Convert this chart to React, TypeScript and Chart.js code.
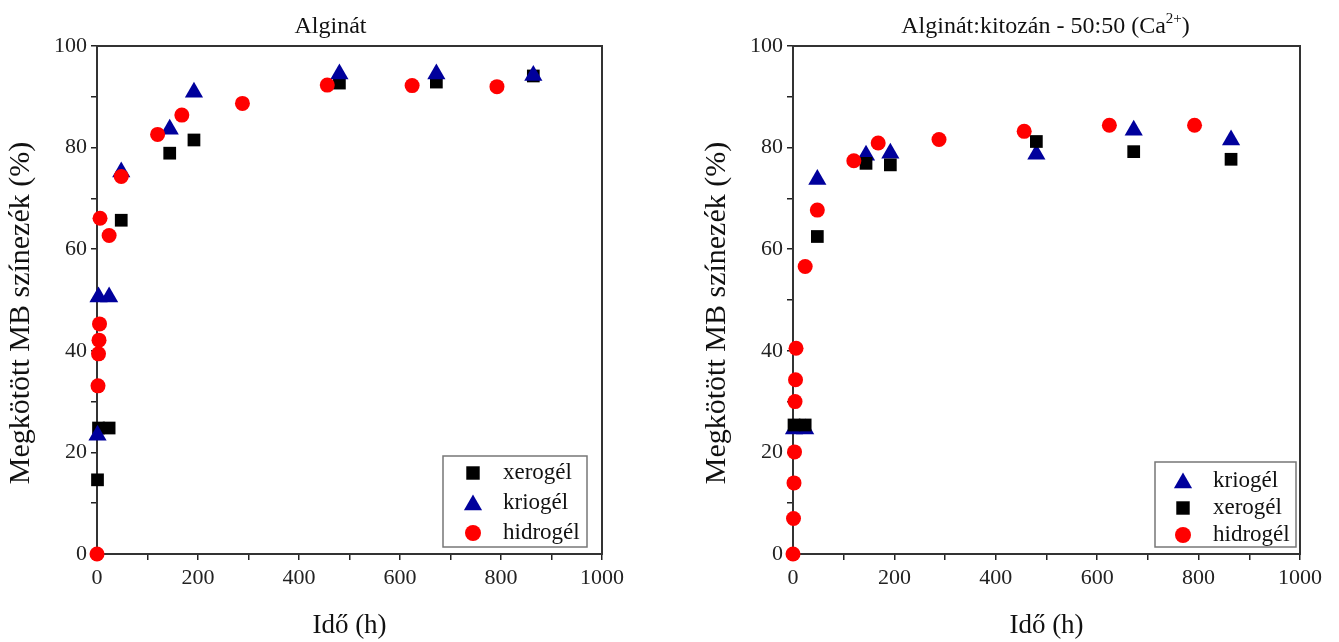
import React, { useEffect, useRef } from 'react';
import { Chart, registerables } from 'chart.js';

Chart.register(...registerables);

const FONT = "'Liberation Serif', 'Times New Roman', serif";

// ---------- data (time in hours, bound MB dye in %) ----------
// Left panel: Alginát
const hoursXeroA = [1, 3, 24, 48, 144, 192, 480, 672, 864];
const xeroA = [14.6, 24.8, 24.8, 65.7, 78.9, 81.5, 92.7, 92.9, 94.1];
const hoursKrioA = [1, 3, 24, 48, 144, 192, 480, 672, 864];
const krioA = [23.4, 50.6, 50.6, 75.2, 83.6, 90.9, 94.5, 94.5, 94.2];
const hoursHidroA = [0, 2, 3, 4, 5, 6, 24, 48, 120, 168, 288, 456, 624, 792];
const hidroA = [0, 33.1, 39.4, 42.1, 45.3, 66.1, 62.7, 74.3, 82.6, 86.4, 88.7, 92.3, 92.2, 92.0];

// Right panel: Alginát:kitozán - 50:50 (Ca2+)
const hoursKrioB = [2, 24, 48, 144, 192, 480, 672, 864];
const krioB = [24.6, 24.6, 73.7, 78.5, 78.9, 78.7, 83.4, 81.5];
const hoursXeroB = [2, 24, 48, 144, 192, 480, 672, 864];
const xeroB = [25.4, 25.4, 62.5, 76.9, 76.6, 81.2, 79.2, 77.7];
const hoursHidroB = [0, 1, 2, 3, 4, 5, 6, 24, 48, 120, 168, 288, 456, 624, 792];
const hidroB = [0, 7.0, 14.0, 20.1, 30.0, 34.3, 40.5, 56.6, 67.7, 77.4, 80.9, 81.6, 83.2, 84.4, 84.4];

// tick labels
const xMajorTicks = [0, 200, 400, 600, 800, 1000];
const yMajorTicks = [0, 20, 40, 60, 80, 100];

const xTitle = 'Idő (h)';
const yTitle = 'Megkötött MB színezék (%)';

// ---------- styles ----------
type Shape = 'rect' | 'triangle' | 'circle';
interface SeriesStyle { label: string; color: string; shape: Shape; radius: number; }
const XERO: SeriesStyle = { label: 'xerogél', color: '#000000', shape: 'rect', radius: 9 };
const KRIO: SeriesStyle = { label: 'kriogél', color: '#00009C', shape: 'triangle', radius: 10.5 };
const HIDRO: SeriesStyle = { label: 'hidrogél', color: '#FF0000', shape: 'circle', radius: 7.5 };

interface SeriesDef { style: SeriesStyle; xs: number[]; ys: number[]; order: number; }

function drawMarker(ctx: CanvasRenderingContext2D, shape: Shape, x: number, y: number, r: number, color: string) {
  ctx.fillStyle = color;
  ctx.beginPath();
  if (shape === 'circle') {
    ctx.arc(x, y, r, 0, Math.PI * 2);
  } else if (shape === 'rect') {
    const s = Math.SQRT1_2 * r;
    ctx.rect(x - s, y - s, 2 * s, 2 * s);
  } else {
    ctx.moveTo(x, y - r);
    ctx.lineTo(x + 0.866 * r, y + 0.5 * r);
    ctx.lineTo(x - 0.866 * r, y + 0.5 * r);
    ctx.closePath();
  }
  ctx.fill();
}

interface TitlePart { t: string; sup?: boolean; }
interface LegendGeom { gapR: number; gapB: number; w: number; h: number; first: number; gap: number; mdx: number; tdx: number; }

interface PanelProps {
  left: number;
  width: number;
  yAxisWidth: number;
  padRight: number;
  titleParts: TitlePart[];
  titleDx: number;
  series: SeriesDef[];
  legendOrder: SeriesStyle[];
  legend: LegendGeom;
}

function Panel(props: PanelProps) {
  const ref = useRef<HTMLCanvasElement>(null);
  useEffect(() => {
    const canvas = ref.current;
    if (!canvas) return;
    const { yAxisWidth, padRight, titleParts, titleDx, series, legendOrder, legend } = props;

    const decor = {
      id: 'decor',
      beforeDatasetsDraw(chart: any) {
        const { ctx, chartArea: a } = chart;
        ctx.save();
        ctx.strokeStyle = '#333';
        ctx.lineWidth = 2;
        ctx.strokeRect(a.left, a.top, a.right - a.left, a.bottom - a.top);
        ctx.restore();
      },
      afterDraw(chart: any) {
        const { ctx, chartArea: a } = chart;
        ctx.save();
        // plot title with optional superscript
        const mainFont = `24px ${FONT}`;
        const supFont = `15px ${FONT}`;
        let total = 0;
        const widths = titleParts.map((p) => {
          ctx.font = p.sup ? supFont : mainFont;
          const w = ctx.measureText(p.t).width;
          total += w;
          return w;
        });
        let tx = (a.left + a.right) / 2 + titleDx - total / 2;
        ctx.fillStyle = '#111';
        ctx.textAlign = 'left';
        ctx.textBaseline = 'alphabetic';
        titleParts.forEach((p, i) => {
          ctx.font = p.sup ? supFont : mainFont;
          ctx.fillText(p.t, tx, p.sup ? 23 : 33);
          tx += widths[i];
        });

        // rotated y title
        ctx.save();
        ctx.translate(29, 313);
        ctx.rotate(-Math.PI / 2);
        ctx.font = `30px ${FONT}`;
        ctx.textAlign = 'center';
        ctx.textBaseline = 'alphabetic';
        ctx.fillStyle = '#111';
        ctx.fillText(yTitle, 0, 0);
        ctx.restore();

        // legend box
        const lx = a.right - legend.gapR - legend.w;
        const ly = a.bottom - legend.gapB - legend.h;
        ctx.fillStyle = '#fff';
        ctx.fillRect(lx, ly, legend.w, legend.h);
        ctx.strokeStyle = '#777';
        ctx.lineWidth = 1.5;
        ctx.strokeRect(lx, ly, legend.w, legend.h);
        legendOrder.forEach((s, i) => {
          const ry = ly + legend.first + i * legend.gap;
          const r = s.shape === 'triangle' ? 10.5 : s.shape === 'rect' ? 9.5 : 8;
          drawMarker(ctx, s.shape, lx + legend.mdx, ry + (s.shape === 'triangle' ? 2 : 0), r, s.color);
          ctx.font = `23px ${FONT}`;
          ctx.fillStyle = '#111';
          ctx.textAlign = 'left';
          ctx.textBaseline = 'middle';
          ctx.fillText(s.label, lx + legend.tdx, ry);
        });
        ctx.restore();
      },
    };

    const tickFont = { family: FONT, size: 22 };
    const chart = new Chart(canvas, {
      type: 'scatter',
      data: {
        datasets: series.map((s) => ({
          label: s.style.label,
          data: s.xs.map((x, i) => ({ x, y: s.ys[i] })),
          pointStyle: s.style.shape,
          pointRadius: s.style.radius,
          pointHoverRadius: s.style.radius,
          backgroundColor: s.style.color,
          borderColor: s.style.color,
          borderWidth: 0,
          clip: false as any,
          order: s.order,
        })),
      },
      options: {
        responsive: false,
        animation: false,
        devicePixelRatio: 1,
        events: [],
        layout: { padding: { top: 46, right: padRight, left: 0, bottom: 0 } },
        plugins: {
          legend: { display: false },
          tooltip: { enabled: false },
          title: { display: false },
        },
        scales: {
          x: {
            type: 'linear',
            min: 0,
            max: 1000,
            afterFit: (s: any) => { s.height = 88; },
            ticks: {
              stepSize: 100,
              autoSkip: false,
              maxRotation: 0,
              callback: (v: any) => (xMajorTicks.includes(Number(v)) ? String(v) : ''),
              font: tickFont,
              color: '#222',
              padding: 5,
            },
            grid: { drawOnChartArea: false, drawTicks: true, tickLength: 6, color: '#222', lineWidth: 1.5 },
            border: { display: false },
            title: {
              display: true,
              text: xTitle,
              font: { family: FONT, size: 27 },
              color: '#111',
              padding: { top: 0, bottom: 0 },
            },
          },
          y: {
            type: 'linear',
            min: 0,
            max: 100,
            afterFit: (s: any) => { s.width = yAxisWidth; },
            ticks: {
              stepSize: 10,
              autoSkip: false,
              callback: (v: any) => (yMajorTicks.includes(Number(v)) ? String(v) : ''),
              font: tickFont,
              color: '#222',
              padding: 4,
            },
            grid: { drawOnChartArea: false, drawTicks: true, tickLength: 6, color: '#222', lineWidth: 1.5 },
            border: { display: false },
            title: { display: false },
          },
        },
      },
      plugins: [decor],
    } as any);
    return () => chart.destroy();
  }, []);

  return (
    <canvas
      ref={ref}
      width={props.width}
      height={642}
      style={{ position: 'absolute', left: props.left, top: 0, width: props.width, height: 642 }}
    />
  );
}

export default function App() {
  return (
    <div style={{ position: 'fixed', left: 0, top: 0, width: 1339, height: 642, background: '#fff', overflow: 'hidden' }}>
      <Panel
        left={0}
        width={660}
        yAxisWidth={97}
        padRight={58}
        titleParts={[{ t: 'Alginát' }]}
        titleDx={-19}
        series={[
          { style: XERO, xs: hoursXeroA, ys: xeroA, order: 2 },
          { style: KRIO, xs: hoursKrioA, ys: krioA, order: 1 },
          { style: HIDRO, xs: hoursHidroA, ys: hidroA, order: 0 },
        ]}
        legendOrder={[XERO, KRIO, HIDRO]}
        legend={{ gapR: 15, gapB: 7, w: 144, h: 91, first: 17, gap: 30, mdx: 30, tdx: 60 }}
      />
      <Panel
        left={696}
        width={643}
        yAxisWidth={97}
        padRight={39}
        titleParts={[{ t: 'Alginát:kitozán - 50:50 (Ca' }, { t: '2+', sup: true }, { t: ')' }]}
        titleDx={-1}
        series={[
          { style: KRIO, xs: hoursKrioB, ys: krioB, order: 2 },
          { style: XERO, xs: hoursXeroB, ys: xeroB, order: 1 },
          { style: HIDRO, xs: hoursHidroB, ys: hidroB, order: 0 },
        ]}
        legendOrder={[KRIO, XERO, HIDRO]}
        legend={{ gapR: 4, gapB: 7, w: 141, h: 85, first: 19, gap: 27, mdx: 28, tdx: 58 }}
      />
    </div>
  );
}
